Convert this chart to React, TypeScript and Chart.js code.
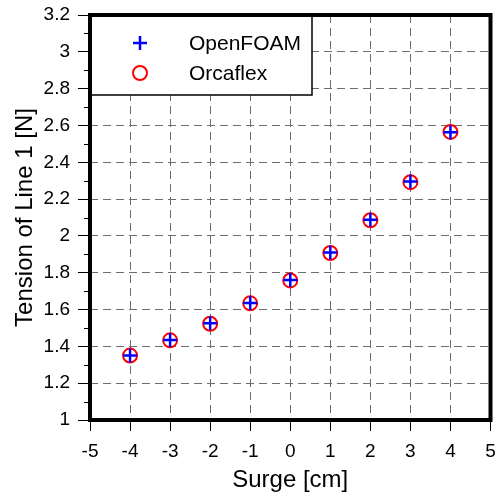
import React, { useEffect, useRef } from "react";
import { Chart, registerables } from "chart.js";

Chart.register(...registerables);

// Surge offsets [cm] and measured line tension [N]
const surge = [-4, -3, -2, -1, 0, 1, 2, 3, 4];
const openFoam = [1.35, 1.435, 1.525, 1.636, 1.76, 1.91, 2.088, 2.295, 2.563];
const orcaflex = [1.35, 1.433, 1.523, 1.634, 1.758, 1.907, 2.085, 2.292, 2.565];

const xTitle = "Surge [cm]";
const yTitle = "Tension of Line 1 [N]";
const xMin = -5;
const xMax = 5;
const yMin = 1;
const yMax = 3.2;

const FONT = "Arial, 'Liberation Sans', sans-serif";

const fmt = (v: number | string) => String(Math.round(Number(v) * 10) / 10);

// Thick frame, minor y ticks and a boxed legend in the upper-left corner
const framePlugin = {
  id: "frameAndLegend",
  afterDraw(chart: any) {
    const { ctx, chartArea } = chart;
    const { left, right, top, bottom } = chartArea;
    const yScale = chart.scales.y;

    ctx.save();
    // minor ticks halfway between major y ticks
    ctx.strokeStyle = "#000";
    ctx.lineWidth = 1;
    const ticks = yScale.ticks.map((t: any) => t.value);
    for (let i = 0; i < ticks.length - 1; i++) {
      const py = Math.round(yScale.getPixelForValue((ticks[i] + ticks[i + 1]) / 2)) + 0.5;
      ctx.beginPath();
      ctx.moveTo(left - 6, py);
      ctx.lineTo(left, py);
      ctx.stroke();
    }

    // legend box
    const boxW = 222;
    const boxH = 80;
    ctx.fillStyle = "#fff";
    ctx.fillRect(left, top, boxW, boxH);
    ctx.strokeStyle = "#000";
    ctx.lineWidth = 1.5;
    ctx.strokeRect(left, top, boxW, boxH);

    const rows = [28, 58];
    ctx.font = `21px ${FONT}`;
    ctx.textBaseline = "middle";
    ctx.textAlign = "left";
    chart.data.datasets.forEach((ds: any, i: number) => {
      const cy = top + rows[i];
      const cx = left + 50;
      ctx.strokeStyle = ds.borderColor;
      ctx.lineWidth = ds.borderWidth;
      ctx.beginPath();
      if (ds.pointStyle === "cross") {
        const r = ds.pointRadius;
        ctx.moveTo(cx - r, cy);
        ctx.lineTo(cx + r, cy);
        ctx.moveTo(cx, cy - r);
        ctx.lineTo(cx, cy + r);
      } else {
        ctx.arc(cx, cy, ds.pointRadius, 0, Math.PI * 2);
      }
      ctx.stroke();
      ctx.fillStyle = "#000";
      ctx.fillText(ds.label, left + 99, cy + 1);
    });

    // heavy plot frame
    ctx.strokeStyle = "#000";
    ctx.lineWidth = 4;
    ctx.strokeRect(left, top, right - left, bottom - top);
    ctx.restore();
  },
};

export default function App() {
  const canvasRef = useRef<HTMLCanvasElement | null>(null);

  useEffect(() => {
    if (!canvasRef.current) return;
    const chart = new Chart(canvasRef.current, {
      type: "scatter",
      data: {
        datasets: [
          {
            label: "OpenFOAM",
            data: surge.map((x, i) => ({ x, y: openFoam[i] })),
            pointStyle: "cross",
            pointRadius: 7,
            borderWidth: 2.5,
            borderColor: "#0000ff",
            backgroundColor: "#0000ff",
            pointHoverRadius: 7,
          },
          {
            label: "Orcaflex",
            data: surge.map((x, i) => ({ x, y: orcaflex[i] })),
            pointStyle: "circle",
            pointRadius: 7,
            borderWidth: 2,
            borderColor: "#ff0000",
            backgroundColor: "rgba(0,0,0,0)",
            pointHoverRadius: 7,
          },
        ],
      },
      options: {
        responsive: false,
        animation: false,
        layout: { padding: { top: 15, right: 7, left: 0, bottom: 0 } },
        plugins: {
          legend: { display: false },
          tooltip: { enabled: false },
        },
        scales: {
          x: {
            type: "linear",
            min: xMin,
            max: xMax,
            afterFit: (scale: any) => {
              scale.height = 80;
              scale.paddingLeft = 0;
              scale.paddingRight = 0;
            },
            ticks: {
              stepSize: 1,
              color: "#000",
              padding: 9,
              font: { family: FONT, size: 19 },
              callback: fmt,
            },
            grid: {
              color: "#6e6e6e",
              lineWidth: 1,
              tickLength: 11,
              tickColor: "#000",
              tickWidth: 1,
              tickBorderDash: [],
            },
            border: { display: false, dash: [8, 5] },
            title: {
              display: true,
              text: xTitle,
              color: "#000",
              font: { family: FONT, size: 24 },
              padding: { top: 0, bottom: 5 },
            },
          },
          y: {
            type: "linear",
            min: yMin,
            max: yMax,
            afterFit: (scale: any) => {
              scale.width = 90;
              scale.paddingTop = 0;
              scale.paddingBottom = 0;
            },
            ticks: {
              stepSize: 0.2,
              color: "#000",
              padding: 8,
              font: { family: FONT, size: 19 },
              callback: fmt,
            },
            grid: {
              color: "#6e6e6e",
              lineWidth: 1,
              tickLength: 12,
              tickColor: "#000",
              tickWidth: 1,
              tickBorderDash: [],
            },
            border: { display: false, dash: [8, 5] },
            title: {
              display: true,
              text: yTitle,
              color: "#000",
              font: { family: FONT, size: 24 },
              padding: { top: 11, bottom: 0 },
            },
          },
        },
      },
      plugins: [framePlugin],
    } as any);
    return () => chart.destroy();
  }, []);

  return (
    <div style={{ position: "fixed", left: 0, top: 0, width: 500, height: 500, background: "#fff" }}>
      <canvas ref={canvasRef} width={500} height={500} style={{ display: "block" }} />
    </div>
  );
}
